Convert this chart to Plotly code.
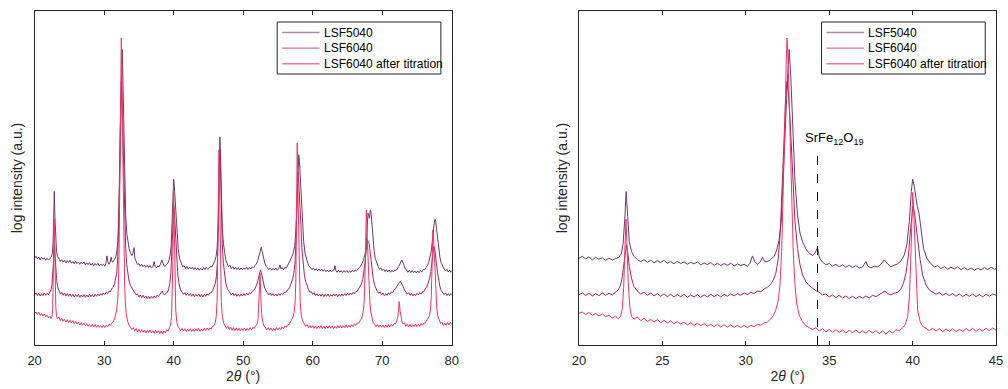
import plotly.graph_objects as go

# ---------------- data ----------------
# (2theta in deg, log intensity in arbitrary units incl. the vertical offset of each pattern)
LSF5040 = [(20.0,26.0),(20.2,26.6),(20.4,25.8),(20.6,26.4),(20.8,25.5),(21.0,26.3),(21.2,25.7),(21.4,26.1),(21.6,25.4),(21.8,26.0),(22.0,25.5),(22.2,25.9),(22.4,26.3),(22.55,27.5),(22.65,30.5),(22.75,38.0),(22.83,46.0),(22.92,38.5),(23.02,31.0),(23.15,28.0),(23.3,26.6),(23.5,25.6),(23.7,25.0),(23.9,25.6),(24.1,24.8),(24.3,25.4),(24.5,24.6),(24.7,25.3),(24.9,24.7),(25.1,25.4),(25.3,24.5),(25.5,25.0),(25.7,24.3),(25.9,25.1),(26.1,24.4),(26.3,24.9),(26.5,24.2),(26.7,24.8),(26.9,24.3),(27.1,24.9),(27.3,24.0),(27.5,24.6),(27.7,24.1),(27.9,24.7),(28.1,23.9),(28.3,24.5),(28.5,23.8),(28.7,24.4),(28.9,23.9),(29.1,24.5),(29.3,23.7),(29.5,24.3),(29.7,23.8),(29.9,24.2),(30.1,23.6),(30.25,24.5),(30.4,26.7),(30.55,24.9),(30.7,24.2),(30.85,24.8),(31.0,26.3),(31.15,24.9),(31.3,25.0),(31.5,25.6),(31.7,26.6),(31.85,28.5),(32.0,31.5),(32.12,37.0),(32.25,50.0),(32.38,66.0),(32.5,80.0),(32.6,88.5),(32.7,80.0),(32.82,64.0),(32.95,49.0),(33.1,39.0),(33.25,33.5),(33.4,31.0),(33.6,28.8),(33.8,27.5),(34.0,26.8),(34.15,27.5),(34.3,29.2),(34.42,26.0),(34.6,24.8),(34.8,24.1),(35.0,24.4),(35.2,23.6),(35.4,24.2),(35.6,23.5),(35.8,24.0),(36.0,23.3),(36.2,23.9),(36.4,23.2),(36.6,23.8),(36.8,23.1),(37.0,23.4),(37.1,24.2),(37.2,25.0),(37.32,23.6),(37.5,23.1),(37.7,23.6),(37.9,23.4),(38.1,24.2),(38.3,25.5),(38.5,24.3),(38.7,23.5),(38.9,23.9),(39.1,24.3),(39.3,25.2),(39.5,27.0),(39.65,30.0),(39.8,37.0),(39.92,46.0),(40.0,49.7),(40.1,47.5),(40.2,43.5),(40.28,41.5),(40.38,39.5),(40.5,34.0),(40.65,29.0),(40.85,26.0),(41.05,24.6),(41.3,23.4),(41.5,23.8),(41.7,22.9),(41.9,23.5),(42.1,22.7),(42.3,23.3),(42.5,22.8),(42.7,23.4),(42.9,22.6),(43.1,23.2),(43.3,22.5),(43.5,23.1),(43.7,22.4),(43.9,23.0),(44.1,22.5),(44.3,23.2),(44.5,22.6),(44.7,23.3),(44.9,22.7),(45.1,23.0),(45.3,23.6),(45.5,23.4),(45.7,24.2),(45.9,25.0),(46.1,26.5),(46.25,29.0),(46.4,36.0),(46.5,47.0),(46.58,57.0),(46.65,62.3),(46.72,58.0),(46.8,50.0),(46.9,41.0),(47.0,35.0),(47.15,30.5),(47.3,27.5),(47.5,25.5),(47.7,24.4),(47.9,23.4),(48.1,23.9),(48.3,22.9),(48.5,23.5),(48.7,22.7),(48.9,23.3),(49.1,22.6),(49.3,23.2),(49.5,22.5),(49.7,23.1),(49.9,22.6),(50.1,23.0),(50.3,22.7),(50.5,23.3),(50.7,22.6),(50.9,23.2),(51.1,22.8),(51.3,23.4),(51.5,23.1),(51.7,23.8),(51.9,24.3),(52.1,25.3),(52.3,26.8),(52.45,28.5),(52.6,29.3),(52.75,28.0),(52.9,26.0),(53.1,24.6),(53.3,23.6),(53.5,23.2),(53.7,22.6),(53.9,23.1),(54.1,22.4),(54.3,23.0),(54.5,22.5),(54.7,23.1),(54.9,22.4),(55.1,22.9),(55.3,24.0),(55.45,22.8),(55.6,23.2),(55.8,22.6),(56.0,23.3),(56.2,23.0),(56.4,23.8),(56.6,24.5),(56.8,25.4),(57.0,26.4),(57.2,27.5),(57.4,29.5),(57.55,33.0),(57.7,40.0),(57.82,49.0),(57.92,55.0),(58.0,57.0),(58.1,55.0),(58.2,51.0),(58.3,47.5),(58.4,43.0),(58.55,36.0),(58.7,31.0),(58.9,27.5),(59.1,25.5),(59.3,24.5),(59.5,23.6),(59.7,23.2),(59.9,22.6),(60.1,23.1),(60.3,22.4),(60.5,22.9),(60.7,22.2),(60.9,22.8),(61.1,22.2),(61.3,22.7),(61.5,22.1),(61.7,22.6),(61.9,22.0),(62.1,22.5),(62.3,21.9),(62.5,22.5),(62.7,21.9),(62.9,22.4),(63.1,22.6),(63.2,23.8),(63.32,22.4),(63.5,21.8),(63.7,22.4),(63.9,21.8),(64.1,22.3),(64.3,21.7),(64.5,22.3),(64.7,21.8),(64.9,22.3),(65.1,21.7),(65.3,22.2),(65.5,21.8),(65.7,22.4),(65.9,21.9),(66.1,22.5),(66.3,22.2),(66.5,22.8),(66.7,23.2),(66.9,23.6),(67.1,24.3),(67.3,25.3),(67.5,27.0),(67.65,29.0),(67.8,33.5),(67.95,39.5),(68.05,39.0),(68.15,38.0),(68.25,39.5),(68.32,40.5),(68.42,39.0),(68.55,35.5),(68.7,31.0),(68.85,28.0),(69.0,26.0),(69.2,24.5),(69.4,23.6),(69.6,22.7),(69.8,23.1),(70.0,22.3),(70.2,22.8),(70.4,22.0),(70.6,22.6),(70.8,21.9),(71.0,22.5),(71.2,21.8),(71.4,22.4),(71.6,21.9),(71.8,22.5),(72.0,22.3),(72.2,22.9),(72.4,23.6),(72.6,24.5),(72.8,25.5),(72.95,24.9),(73.1,24.0),(73.3,23.0),(73.5,22.5),(73.7,21.8),(73.9,22.4),(74.1,21.7),(74.3,22.3),(74.5,21.7),(74.7,22.2),(74.9,21.6),(75.1,22.2),(75.3,21.7),(75.5,22.3),(75.7,21.9),(75.9,22.6),(76.1,22.5),(76.3,23.2),(76.5,23.8),(76.7,24.8),(76.9,26.2),(77.05,28.0),(77.2,31.0),(77.35,34.5),(77.5,36.8),(77.6,37.7),(77.7,37.0),(77.8,35.0),(77.95,32.0),(78.1,29.0),(78.3,26.3),(78.5,24.5),(78.7,23.4),(78.9,22.8),(79.1,22.2),(79.3,22.7),(79.5,21.9),(79.7,22.5),(79.85,21.8),(80.0,22.3)]

LSF6040 = [(20.0,15.0),(20.2,15.6),(20.4,14.8),(20.6,15.5),(20.8,14.7),(21.0,15.4),(21.2,14.8),(21.4,15.6),(21.6,14.9),(21.8,15.5),(22.0,15.0),(22.2,15.8),(22.35,16.5),(22.5,18.0),(22.6,20.5),(22.7,24.5),(22.78,28.0),(22.85,30.0),(22.93,27.5),(23.02,23.5),(23.15,20.0),(23.3,17.5),(23.5,16.2),(23.7,15.2),(23.9,15.8),(24.1,14.9),(24.3,15.6),(24.5,14.7),(24.7,15.4),(24.9,14.6),(25.1,15.3),(25.3,14.5),(25.5,15.2),(25.7,14.4),(25.9,15.1),(26.1,14.5),(26.3,15.2),(26.5,14.3),(26.7,15.0),(26.9,14.4),(27.1,15.1),(27.3,14.3),(27.5,15.0),(27.7,14.4),(27.9,15.2),(28.1,14.5),(28.3,15.1),(28.5,14.4),(28.7,15.2),(28.9,14.6),(29.1,15.3),(29.3,14.7),(29.5,15.4),(29.7,14.9),(29.9,15.6),(30.1,15.1),(30.3,15.8),(30.5,15.4),(30.7,16.2),(30.9,16.0),(31.1,16.8),(31.3,17.3),(31.5,18.3),(31.65,19.5),(31.8,21.5),(31.95,26.0),(32.08,35.0),(32.2,50.0),(32.3,64.0),(32.4,75.0),(32.47,79.0),(32.55,76.0),(32.65,68.0),(32.75,56.0),(32.85,45.0),(32.95,37.0),(33.1,29.0),(33.25,24.0),(33.4,21.0),(33.6,19.0),(33.8,17.8),(34.0,17.0),(34.2,16.3),(34.4,15.8),(34.6,15.0),(34.8,15.3),(35.0,14.4),(35.2,15.0),(35.4,14.2),(35.6,14.9),(35.8,14.1),(36.0,14.7),(36.2,13.9),(36.4,14.6),(36.6,13.9),(36.8,14.6),(37.0,14.0),(37.2,14.7),(37.4,14.1),(37.6,14.9),(37.8,14.5),(38.0,15.1),(38.2,15.8),(38.35,16.2),(38.5,15.4),(38.7,15.0),(38.9,15.5),(39.1,15.8),(39.3,16.8),(39.45,18.5),(39.6,21.5),(39.75,27.0),(39.88,35.0),(39.97,40.5),(40.02,41.5),(40.1,40.0),(40.2,36.0),(40.3,31.0),(40.45,25.5),(40.6,21.0),(40.8,18.0),(41.0,16.5),(41.2,15.9),(41.4,15.2),(41.6,15.7),(41.8,14.9),(42.0,15.5),(42.2,14.8),(42.4,15.4),(42.6,14.6),(42.8,15.3),(43.0,14.5),(43.2,15.2),(43.4,14.6),(43.6,15.3),(43.8,14.5),(44.0,15.1),(44.2,14.4),(44.4,15.2),(44.6,14.6),(44.8,15.3),(45.0,14.9),(45.2,15.6),(45.4,15.6),(45.6,16.3),(45.8,17.2),(46.0,18.5),(46.15,20.5),(46.3,25.0),(46.42,35.0),(46.52,48.0),(46.6,56.0),(46.65,58.5),(46.72,55.0),(46.8,47.0),(46.9,37.0),(47.0,30.0),(47.15,24.5),(47.3,21.0),(47.5,18.5),(47.7,17.0),(47.9,16.2),(48.1,15.6),(48.3,15.0),(48.5,15.6),(48.7,14.8),(48.9,15.4),(49.1,14.6),(49.3,15.3),(49.5,14.6),(49.7,15.3),(49.9,14.7),(50.1,15.4),(50.3,14.8),(50.5,15.5),(50.7,15.0),(50.9,15.7),(51.1,15.4),(51.3,16.1),(51.5,16.3),(51.7,17.0),(51.9,17.8),(52.1,19.2),(52.25,20.8),(52.4,22.3),(52.5,22.5),(52.6,21.8),(52.75,20.0),(52.9,18.3),(53.1,17.0),(53.3,16.2),(53.5,15.6),(53.7,15.0),(53.9,15.6),(54.1,14.8),(54.3,15.4),(54.5,14.7),(54.7,15.3),(54.9,14.7),(55.1,15.4),(55.3,14.9),(55.5,15.5),(55.7,15.1),(55.9,15.8),(56.1,15.7),(56.3,16.4),(56.5,16.6),(56.7,17.4),(56.9,18.3),(57.1,19.6),(57.3,21.5),(57.45,24.5),(57.6,31.0),(57.72,41.0),(57.82,49.0),(57.88,52.0),(57.95,50.5),(58.05,47.0),(58.15,42.5),(58.3,36.0),(58.45,29.0),(58.6,24.5),(58.8,21.0),(59.0,19.0),(59.2,17.6),(59.4,16.6),(59.6,15.8),(59.8,16.0),(60.0,15.2),(60.2,15.7),(60.4,14.8),(60.6,15.4),(60.8,14.7),(61.0,15.3),(61.2,14.6),(61.4,15.3),(61.6,14.5),(61.8,15.2),(62.0,14.6),(62.2,15.3),(62.4,14.5),(62.6,15.1),(62.8,14.6),(63.0,15.3),(63.2,14.7),(63.4,15.3),(63.6,14.5),(63.8,15.2),(64.0,14.6),(64.2,15.3),(64.4,14.7),(64.6,15.4),(64.8,14.8),(65.0,15.5),(65.2,14.9),(65.4,15.6),(65.6,15.1),(65.8,15.8),(66.0,15.4),(66.2,16.0),(66.4,16.1),(66.6,16.8),(66.8,17.3),(67.0,18.3),(67.2,19.6),(67.4,22.0),(67.55,25.0),(67.7,28.5),(67.8,30.5),(67.9,31.5),(68.0,31.0),(68.1,30.5),(68.2,29.0),(68.35,26.0),(68.5,23.0),(68.7,20.0),(68.9,18.0),(69.1,16.8),(69.3,16.0),(69.5,15.5),(69.7,15.9),(69.9,15.0),(70.1,15.6),(70.3,14.8),(70.5,15.4),(70.7,14.9),(70.9,15.6),(71.1,15.2),(71.3,15.9),(71.5,15.7),(71.7,16.5),(71.9,16.8),(72.1,17.6),(72.3,18.3),(72.5,18.9),(72.65,19.0),(72.8,18.5),(73.0,17.5),(73.2,16.5),(73.4,15.8),(73.6,15.2),(73.8,15.7),(74.0,14.9),(74.2,15.5),(74.4,14.7),(74.6,15.3),(74.8,14.8),(75.0,15.5),(75.2,15.0),(75.4,15.7),(75.6,15.3),(75.8,16.0),(76.0,16.0),(76.2,16.8),(76.4,17.4),(76.6,18.5),(76.8,19.8),(77.0,22.0),(77.15,24.5),(77.3,27.5),(77.42,29.5),(77.52,29.2),(77.65,27.5),(77.8,24.5),(77.95,21.8),(78.1,19.5),(78.3,17.5),(78.5,16.3),(78.7,15.6),(78.9,15.1),(79.1,15.6),(79.3,14.8),(79.5,15.4),(79.7,14.8),(79.85,15.4),(80.0,15.0)]

LSF6040_titr = [(20.0,9.5),(20.2,9.9),(20.4,9.1),(20.6,9.8),(20.8,8.9),(21.0,9.4),(21.2,8.7),(21.4,9.3),(21.6,8.5),(21.8,8.9),(22.0,8.1),(22.2,8.6),(22.35,7.9),(22.5,8.6),(22.6,11.0),(22.68,17.0),(22.75,28.0),(22.82,37.7),(22.88,30.0),(22.95,19.0),(23.05,11.5),(23.15,8.6),(23.3,7.8),(23.5,8.4),(23.7,7.3),(23.9,8.0),(24.1,7.1),(24.3,7.7),(24.5,6.9),(24.7,7.6),(24.9,6.7),(25.1,7.4),(25.3,6.6),(25.5,7.3),(25.7,6.4),(25.9,7.0),(26.1,6.3),(26.3,6.9),(26.5,6.0),(26.7,6.7),(26.9,5.9),(27.1,6.5),(27.3,5.8),(27.5,6.4),(27.7,5.6),(27.9,6.2),(28.1,5.5),(28.3,6.2),(28.5,5.4),(28.7,6.1),(28.9,5.3),(29.1,6.0),(29.3,5.3),(29.5,5.9),(29.7,5.2),(29.9,5.9),(30.1,5.2),(30.3,5.9),(30.5,5.5),(30.7,6.2),(30.9,5.9),(31.1,6.6),(31.3,6.9),(31.5,7.8),(31.65,8.8),(31.8,10.5),(31.95,13.5),(32.05,18.0),(32.15,28.0),(32.25,45.0),(32.35,68.0),(32.42,84.0),(32.47,92.0),(32.53,86.0),(32.6,72.0),(32.68,55.0),(32.76,40.0),(32.85,27.0),(32.95,18.0),(33.05,12.5),(33.2,9.0),(33.4,7.0),(33.6,5.8),(33.8,5.3),(34.0,4.6),(34.2,5.2),(34.4,4.2),(34.6,4.9),(34.8,3.9),(35.0,4.7),(35.2,3.8),(35.4,4.6),(35.6,3.8),(35.8,4.5),(36.0,3.6),(36.2,4.4),(36.4,3.7),(36.6,4.5),(36.8,3.6),(37.0,4.3),(37.2,3.5),(37.4,4.4),(37.6,3.6),(37.8,4.3),(38.0,3.4),(38.2,4.2),(38.4,3.3),(38.6,4.2),(38.8,3.6),(39.0,4.6),(39.2,4.2),(39.4,5.2),(39.55,6.0),(39.7,8.5),(39.8,14.0),(39.88,24.0),(39.95,37.0),(40.0,45.7),(40.05,42.0),(40.12,32.0),(40.2,19.0),(40.3,10.5),(40.45,7.0),(40.6,5.6),(40.8,5.0),(41.0,4.3),(41.2,5.0),(41.4,4.2),(41.6,4.9),(41.8,4.0),(42.0,4.8),(42.2,4.1),(42.4,4.9),(42.6,4.0),(42.8,4.7),(43.0,4.1),(43.2,4.9),(43.4,4.2),(43.6,5.0),(43.8,4.1),(44.0,4.8),(44.2,4.2),(44.4,5.0),(44.6,4.3),(44.8,5.1),(45.0,4.4),(45.2,5.1),(45.4,4.8),(45.6,5.6),(45.8,5.8),(46.0,6.8),(46.12,8.5),(46.25,13.0),(46.35,24.0),(46.42,40.0),(46.48,55.0),(46.52,58.5),(46.58,52.0),(46.65,38.0),(46.75,22.0),(46.85,13.0),(47.0,8.5),(47.2,6.5),(47.4,5.8),(47.6,5.0),(47.8,5.6),(48.0,4.6),(48.2,5.3),(48.4,4.4),(48.6,5.2),(48.8,4.3),(49.0,5.1),(49.2,4.3),(49.4,5.0),(49.6,4.2),(49.8,5.0),(50.0,4.3),(50.2,5.1),(50.4,4.3),(50.6,5.0),(50.8,4.4),(51.0,5.2),(51.2,4.5),(51.4,5.3),(51.6,5.0),(51.8,5.8),(52.0,6.2),(52.15,8.0),(52.27,12.0),(52.35,17.5),(52.42,21.5),(52.48,19.5),(52.55,14.0),(52.65,9.5),(52.8,7.0),(53.0,5.6),(53.2,5.3),(53.4,4.5),(53.6,5.2),(53.8,4.4),(54.0,5.1),(54.2,4.3),(54.4,5.0),(54.6,4.4),(54.8,5.2),(55.0,4.5),(55.2,5.2),(55.4,4.6),(55.6,5.4),(55.8,4.9),(56.0,5.7),(56.2,5.4),(56.4,6.1),(56.6,6.1),(56.8,6.9),(57.0,7.3),(57.2,8.5),(57.35,10.0),(57.48,13.0),(57.58,20.0),(57.66,33.0),(57.72,48.0),(57.77,60.5),(57.83,55.0),(57.9,44.0),(57.98,32.0),(58.08,21.0),(58.2,13.0),(58.35,9.0),(58.55,7.2),(58.8,6.3),(59.0,5.6),(59.2,6.1),(59.4,5.2),(59.6,5.9),(59.8,5.1),(60.0,5.8),(60.2,5.0),(60.4,5.7),(60.6,4.9),(60.8,5.7),(61.0,5.0),(61.2,5.8),(61.4,4.9),(61.6,5.6),(61.8,4.9),(62.0,5.7),(62.2,5.0),(62.4,5.8),(62.6,5.0),(62.8,5.7),(63.0,4.9),(63.2,5.6),(63.4,5.0),(63.6,5.8),(63.8,5.1),(64.0,5.9),(64.2,5.1),(64.4,5.8),(64.6,5.2),(64.8,6.0),(65.0,5.2),(65.2,5.9),(65.4,5.3),(65.6,6.1),(65.8,5.5),(66.0,6.3),(66.2,5.9),(66.4,6.6),(66.6,6.5),(66.8,7.2),(67.0,7.8),(67.15,8.8),(67.3,10.5),(67.42,13.5),(67.52,19.0),(67.6,27.0),(67.67,36.0),(67.72,40.5),(67.78,37.0),(67.85,32.0),(67.92,28.0),(68.0,23.0),(68.1,18.0),(68.22,13.0),(68.35,10.0),(68.5,8.0),(68.7,6.7),(68.9,6.2),(69.1,5.5),(69.3,6.1),(69.5,5.3),(69.7,6.0),(69.9,5.3),(70.1,6.0),(70.3,5.2),(70.5,6.0),(70.7,5.3),(70.9,6.1),(71.1,5.4),(71.3,6.2),(71.5,5.6),(71.7,6.4),(71.9,6.3),(72.1,7.2),(72.25,8.5),(72.35,10.5),(72.43,13.0),(72.5,12.0),(72.58,10.0),(72.7,8.0),(72.85,7.0),(73.0,6.3),(73.2,6.6),(73.4,5.6),(73.6,6.3),(73.8,5.4),(74.0,6.2),(74.2,5.4),(74.4,6.1),(74.6,5.5),(74.8,6.3),(75.0,5.5),(75.2,6.2),(75.4,5.6),(75.6,6.4),(75.8,5.9),(76.0,6.6),(76.2,6.6),(76.4,7.3),(76.6,7.7),(76.8,8.8),(76.95,10.5),(77.05,14.0),(77.15,22.0),(77.22,30.0),(77.28,34.5),(77.35,33.0),(77.42,30.5),(77.5,27.0),(77.6,21.0),(77.72,15.0),(77.85,11.0),(78.0,8.6),(78.2,7.2),(78.4,6.4),(78.6,6.8),(78.8,5.8),(79.0,6.5),(79.2,5.9),(79.4,6.7),(79.6,6.0),(79.8,6.8),(80.0,6.2)]

series_names = ["LSF5040", "LSF6040", "LSF6040 after titration"]
series_colors = ["#70386f", "#a82360", "#f23466"]
legend_colors = ["#a98aaa", "#cf6f9a", "#f873a0"]
left_ticks = [20, 30, 40, 50, 60, 70, 80]
right_ticks = [20, 25, 30, 35, 40, 45]
secondary_phase_x = 34.3
secondary_phase_top = 59.0
secondary_phase_label = "SrFe<sub>12</sub>O<sub>19</sub>"

FONT = "Liberation Sans, Arial, Helvetica, sans-serif"
AXC = "#262626"
W, H = 1008, 389

fig = go.Figure()
series = [LSF5040, LSF6040, LSF6040_titr]
for axx, axy in [("x", "y"), ("x2", "y2")]:
    for pts, name, col in zip(series, series_names, series_colors):
        fig.add_trace(go.Scatter(x=[p[0] for p in pts], y=[p[1] for p in pts], mode="lines", name=name,
                                 line=dict(color=col, width=1), showlegend=False,
                                 xaxis=axx, yaxis=axy))

# dashed reference line for the secondary phase
fig.add_trace(go.Scatter(x=[secondary_phase_x, secondary_phase_x], y=[0, secondary_phase_top],
                         mode="lines", line=dict(color="#000000", width=1, dash="dash"),
                         showlegend=False, xaxis="x2", yaxis="y2", hoverinfo="skip"))
fig.add_annotation(x=35.3, y=secondary_phase_top, xref="x2", yref="y2",
                   text=secondary_phase_label, showarrow=False, yanchor="bottom", yshift=-1,
                   font=dict(family=FONT, size=13, color="#000000"))

# hand-built legends (compact boxes)
def px(v):
    return v / W

def py(v):
    return 1 - v / H

shapes = []
for off in (0, 552):
    shapes.append(dict(type="rect", xref="paper", yref="paper",
                       x0=px(274 + off), x1=px(440 + off), y0=py(74), y1=py(22),
                       line=dict(color=AXC, width=1), fillcolor="#ffffff", layer="above"))
    for i, (name, lc) in enumerate(zip(series_names, legend_colors)):
        yy = 32.5 + 15.6 * i
        shapes.append(dict(type="line", xref="paper", yref="paper",
                           x0=px(279 + off), x1=px(317 + off), y0=py(yy), y1=py(yy),
                           line=dict(color=lc, width=1.4), layer="above"))
        fig.add_annotation(x=px(319 + off), y=py(yy), xref="paper", yref="paper", text=name,
                           showarrow=False, xanchor="left", yanchor="middle",
                           font=dict(family=FONT, size=12, color="#000000"))

common_x = dict(showgrid=False, zeroline=False, showline=True, linecolor=AXC, linewidth=1, mirror="ticks",
                ticks="inside", ticklen=4, tickcolor=AXC, tickwidth=1, ticklabelstandoff=3,
                tickfont=dict(family=FONT, size=13, color=AXC),
                title=dict(text="2<i>θ</i> (°)", font=dict(family=FONT, size=14, color=AXC), standoff=4))
common_y = dict(showgrid=False, zeroline=False, showline=True, linecolor=AXC, linewidth=1, mirror=True,
                ticks="", showticklabels=False, range=[0, 100.1],
                title=dict(text="log intensity (a.u.)", font=dict(family=FONT, size=14, color=AXC), standoff=7))

ydom = [1 - 345 / H, 1 - 11 / H]

fig.update_layout(
    width=W, height=H, margin=dict(l=0, r=0, t=0, b=0),
    paper_bgcolor="#ffffff", plot_bgcolor="#ffffff",
    font=dict(family=FONT),
    xaxis=dict(domain=[28 / W, 451 / W], range=[20, 80], tickvals=left_ticks, anchor="y", **common_x),
    yaxis=dict(domain=ydom, anchor="x", **common_y),
    xaxis2=dict(domain=[580 / W, 1003 / W], range=[20, 45], tickvals=right_ticks, anchor="y2", **common_x),
    yaxis2=dict(domain=ydom, anchor="x2", **common_y),
    shapes=shapes,
    showlegend=False,
)

fig.write_html("out.html")
